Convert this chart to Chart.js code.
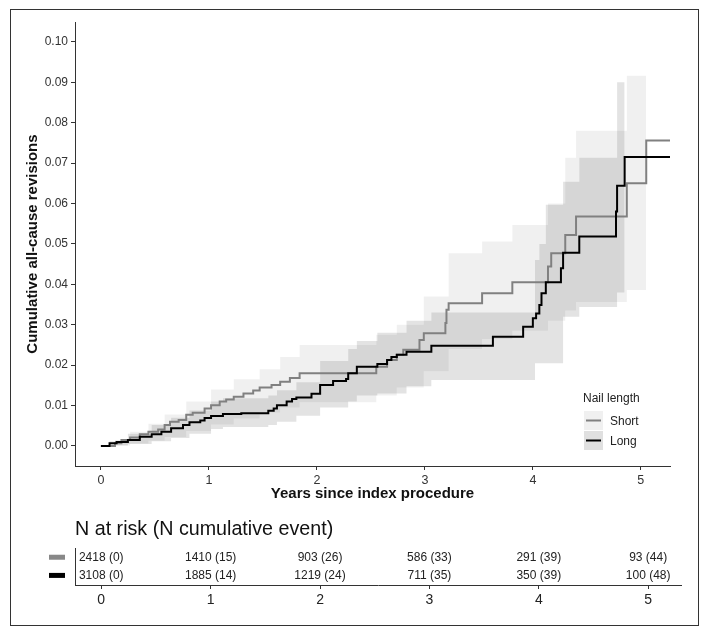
<!DOCTYPE html>
<html>
<head>
<meta charset="utf-8">
<script src="https://cdn.jsdelivr.net/npm/chart.js@4.4.0/dist/chart.umd.min.js"></script>
<style>
  html, body { margin: 0; padding: 0; background: #fff; }
  #wrap { position: relative; width: 709px; height: 636px; }
  #frame { position: absolute; left: 10px; top: 9px; width: 687px; height: 615px; border: 1px solid #333; }
  #km { position: absolute; left: 0; top: 0; }
  #risk { position: absolute; left: 0; top: 505px; }
</style>
</head>
<body>
<div id="wrap">
  <div id="frame"></div>
  <canvas id="km" width="709" height="505"></canvas>
  <canvas id="risk" width="709" height="131"></canvas>
</div>
<script>
const FONT = "'Liberation Sans', Arial, sans-serif";

// cumulative incidence, short nails (step times in years)
const shortTimes = [0, 0.13, 0.19, 0.27, 0.36, 0.44, 0.53, 0.59, 0.64, 0.72, 0.79, 0.85, 0.96, 1.02, 1.10, 1.16, 1.23, 1.32, 1.41, 1.47, 1.58, 1.66, 1.75, 1.84, 2.55, 2.65, 2.74, 2.80, 2.95, 2.99, 3.19, 3.20, 3.22, 3.53, 3.81, 4.14, 4.17, 4.30, 4.40, 4.87, 5.05, 5.27];
const shortCum = [0, 0.0007, 0.0015, 0.0021, 0.0029, 0.0035, 0.0041, 0.0052, 0.0060, 0.0064, 0.0077, 0.0082, 0.0093, 0.0101, 0.0110, 0.0115, 0.0122, 0.0130, 0.0137, 0.0145, 0.0151, 0.0159, 0.0168, 0.0180, 0.0196, 0.0213, 0.0226, 0.0238, 0.0262, 0.0279, 0.0304, 0.0337, 0.0353, 0.0378, 0.0405, 0.0444, 0.0477, 0.0522, 0.0568, 0.0650, 0.0756, 0.0756];

// cumulative incidence, long nails
const longTimes = [0, 0.08, 0.145, 0.25, 0.36, 0.47, 0.56, 0.65, 0.76, 0.82, 0.92, 0.96, 1.02, 1.13, 1.30, 1.55, 1.60, 1.63, 1.72, 1.77, 1.81, 1.95, 2.03, 2.15, 2.27, 2.29, 2.37, 2.56, 2.65, 2.69, 2.74, 2.83, 3.06, 3.63, 3.91, 4.00, 4.03, 4.06, 4.08, 4.12, 4.26, 4.28, 4.43, 4.77, 4.78, 4.85, 5.27];
const longCum = [0, 0.0007, 0.0010, 0.0015, 0.0023, 0.0029, 0.0035, 0.0044, 0.0052, 0.0059, 0.0063, 0.0069, 0.0074, 0.0079, 0.0081, 0.0087, 0.0093, 0.0101, 0.0110, 0.0116, 0.0120, 0.0129, 0.0151, 0.0161, 0.0166, 0.0180, 0.0196, 0.0203, 0.0213, 0.0220, 0.0226, 0.0233, 0.0248, 0.0270, 0.0295, 0.0316, 0.0328, 0.0349, 0.0378, 0.0405, 0.0440, 0.0478, 0.0518, 0.0580, 0.0644, 0.0715, 0.0715];

// confidence bands
const shortBandTimes = [0, 0.13, 0.27, 0.44, 0.59, 0.79, 1.02, 1.23, 1.47, 1.66, 1.84, 2.55, 2.74, 2.99, 3.22, 3.53, 3.81, 4.14, 4.30, 4.40, 4.87, 5.05];
const shortLower = [0, 0.0001, 0.0006, 0.0013, 0.0022, 0.0037, 0.0053, 0.0068, 0.0083, 0.0095, 0.0108, 0.0125, 0.0145, 0.0185, 0.0240, 0.0265, 0.0285, 0.0310, 0.0335, 0.0356, 0.0386, 0.0386];
const shortUpper = [0, 0.0015, 0.0035, 0.0055, 0.0078, 0.0110, 0.0140, 0.0165, 0.0190, 0.0220, 0.0250, 0.0275, 0.0300, 0.0370, 0.0477, 0.0506, 0.0547, 0.0600, 0.0713, 0.0780, 0.0916, 0.0916];

const longBandTimes = [0, 0.08, 0.25, 0.47, 0.65, 0.82, 1.02, 1.13, 1.55, 1.63, 1.81, 2.03, 2.29, 2.37, 2.56, 2.83, 3.06, 4.02, 4.06, 4.12, 4.28, 4.43, 4.78, 4.85];
const longLower = [0, 0.0001, 0.0005, 0.0012, 0.0020, 0.0030, 0.0042, 0.0047, 0.0052, 0.0060, 0.0075, 0.0095, 0.0110, 0.0125, 0.0130, 0.0148, 0.0163, 0.0205, 0.0205, 0.0205, 0.0320, 0.0344, 0.0380, 0.0380];
const longUpper = [0, 0.0012, 0.0030, 0.0052, 0.0070, 0.0088, 0.0110, 0.0118, 0.0125, 0.0138, 0.0158, 0.0210, 0.0240, 0.0260, 0.0280, 0.0310, 0.0330, 0.0460, 0.0500, 0.0597, 0.0654, 0.0713, 0.0900, 0.0900];

// risk table
const riskTimes = [0, 1, 2, 3, 4, 5];
const shortAtRisk = [2418, 1410, 903, 586, 291, 93];
const shortEvents = [0, 15, 26, 33, 39, 44];
const longAtRisk = [3108, 1885, 1219, 711, 350, 100];
const longEvents = [0, 14, 24, 35, 39, 48];

const yTicks = [0, 0.01, 0.02, 0.03, 0.04, 0.05, 0.06, 0.07, 0.08, 0.09, 0.10];
const xTicks = [0, 1, 2, 3, 4, 5];

const SHORT_COLOR = '#808080';
const LONG_COLOR = '#000000';

function pts(xs, ys) {
  return xs.map((x, i) => ({ x: x, y: ys[i] }));
}

function stepLine(label, xs, ys, color) {
  return { label: label, data: pts(xs, ys), borderColor: color, borderWidth: 2, pointRadius: 0, stepped: true, fill: false };
}

function band(xs, ys, fill, bg) {
  return { data: pts(xs, ys), borderWidth: 0, borderColor: 'rgba(0,0,0,0)', pointRadius: 0, stepped: true, fill: fill, backgroundColor: bg };
}

const nailLegend = {
  id: 'nailLegend',
  afterDraw(chart) {
    const ctx = chart.ctx;
    ctx.save();
    ctx.font = '12px ' + FONT;
    ctx.textBaseline = 'middle';
    ctx.fillStyle = '#222';
    ctx.fillText('Nail length', 583, 399);
    const keys = [
      { label: 'Short', bg: '#f0f0f0', color: SHORT_COLOR, top: 411 },
      { label: 'Long', bg: '#e0e0e0', color: LONG_COLOR, top: 431 }
    ];
    keys.forEach(k => {
      ctx.fillStyle = k.bg;
      ctx.fillRect(584, k.top, 19, 19);
      ctx.strokeStyle = k.color;
      ctx.lineWidth = 2;
      ctx.beginPath();
      ctx.moveTo(586, k.top + 9.5);
      ctx.lineTo(601, k.top + 9.5);
      ctx.stroke();
      ctx.fillStyle = '#222';
      ctx.fillText(k.label, 610, k.top + 10.5);
    });
    ctx.restore();
  }
};

new Chart(document.getElementById('km'), {
  type: 'line',
  data: {
    datasets: [
      stepLine('Long', longTimes, longCum, LONG_COLOR),
      stepLine('Short', shortTimes, shortCum, SHORT_COLOR),
      band(shortBandTimes, shortUpper, '+1', 'rgba(0,0,0,0.06)'),
      band(shortBandTimes, shortLower, false, 'rgba(0,0,0,0)'),
      band(longBandTimes, longUpper, '+1', 'rgba(0,0,0,0.11)'),
      band(longBandTimes, longLower, false, 'rgba(0,0,0,0)')
    ]
  },
  options: {
    responsive: false,
    animation: false,
    devicePixelRatio: 1,
    layout: { padding: { top: 22, right: 39, left: 0, bottom: 0 } },
    plugins: { legend: { display: false }, tooltip: { enabled: false } },
    scales: {
      x: {
        type: 'linear',
        min: -0.24,
        max: 5.27,
        afterBuildTicks: s => { s.ticks = xTicks.map(v => ({ value: v })); },
        afterFit: s => { s.height = 39; },
        ticks: { autoSkip: false, maxRotation: 0, padding: 3, color: '#333', font: { family: FONT, size: 12.5 }, callback: v => String(v) },
        grid: { drawOnChartArea: false, drawTicks: true, tickLength: 4, tickColor: '#333' },
        border: { display: true, color: '#333', width: 1 },
        title: { display: true, text: 'Years since index procedure', color: '#111', font: { family: FONT, size: 15, weight: 'bold' }, padding: { top: 0, bottom: 2 } }
      },
      y: {
        type: 'linear',
        min: -0.00495,
        max: 0.1049,
        afterBuildTicks: s => { s.ticks = yTicks.map(v => ({ value: v })); },
        afterFit: s => { s.width = 75; },
        ticks: { autoSkip: false, padding: 3, color: '#333', font: { family: FONT, size: 12 }, callback: v => v.toFixed(2) },
        grid: { drawOnChartArea: false, drawTicks: true, tickLength: 4, tickColor: '#333' },
        border: { display: true, color: '#333', width: 1 },
        title: { display: true, text: 'Cumulative all-cause revisions', color: '#111', font: { family: FONT, size: 15, weight: 'bold' }, padding: { top: 24, bottom: 0 } }
      }
    }
  },
  plugins: [nailLegend]
});

const riskText = {
  id: 'riskText',
  afterDraw(chart) {
    const ctx = chart.ctx;
    const xs = chart.scales.x;
    const ys = chart.scales.y;
    const rows = [
      { n: shortAtRisk, e: shortEvents, color: '#888888' },
      { n: longAtRisk, e: longEvents, color: '#000000' }
    ];
    ctx.save();
    ctx.font = '12px ' + FONT;
    ctx.textAlign = 'center';
    ctx.textBaseline = 'middle';
    rows.forEach((r, ri) => {
      const py = ys.getPixelForValue(ri + 0.5);
      ctx.fillStyle = r.color;
      ctx.fillRect(49, py - 3, 16, 5);
      ctx.fillStyle = '#222';
      riskTimes.forEach((t, i) => {
        ctx.fillText(r.n[i] + ' (' + r.e[i] + ')', xs.getPixelForValue(t), py);
      });
    });
    ctx.restore();
  }
};

new Chart(document.getElementById('risk'), {
  type: 'scatter',
  data: { datasets: [] },
  options: {
    responsive: false,
    animation: false,
    devicePixelRatio: 1,
    layout: { padding: { top: 0, right: 28, left: 75, bottom: 0 } },
    plugins: {
      legend: { display: false },
      tooltip: { enabled: false },
      title: { display: true, text: 'N at risk (N cumulative event)', align: 'start', color: '#111', font: { family: FONT, size: 19.7, weight: 'normal' }, padding: { top: 13, bottom: 7 } }
    },
    scales: {
      x: {
        type: 'linear',
        min: -0.24,
        max: 5.3,
        afterBuildTicks: s => { s.ticks = xTicks.map(v => ({ value: v })); },
        afterFit: s => { s.height = 51; },
        ticks: { autoSkip: false, maxRotation: 0, padding: 3, color: '#222', font: { family: FONT, size: 14 }, callback: v => String(v) },
        grid: { drawOnChartArea: false, drawTicks: true, tickLength: 4, tickColor: '#333' },
        border: { display: true, color: '#333', width: 1 }
      },
      y: {
        type: 'linear',
        min: 0,
        max: 2,
        reverse: true,
        afterFit: s => { s.width = 0; },
        ticks: { display: false },
        grid: { display: false },
        border: { display: true, color: '#333', width: 1 }
      }
    }
  },
  plugins: [riskText]
});
</script>
</body>
</html>
